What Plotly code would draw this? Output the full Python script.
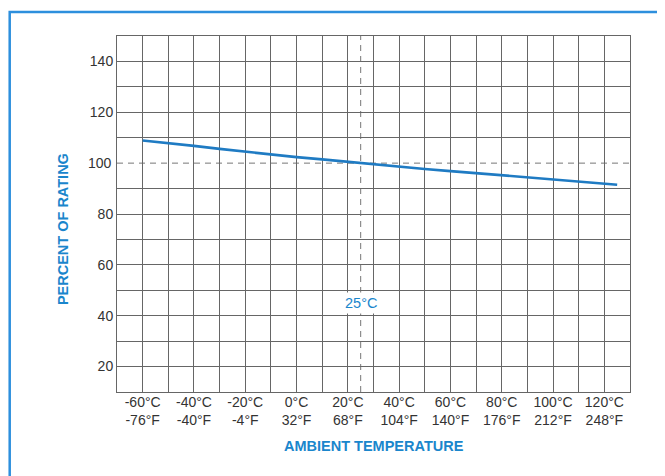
import plotly.graph_objects as go

# ---- data ----
temps_c = [-60, -50, -40, -30, -20, -10, 0, 10, 20, 25, 30, 40, 50, 60, 70, 80, 90, 100, 110, 120, 125]
percent = [108.9, 107.9, 106.8, 105.6, 104.5, 103.4, 102.4, 101.5, 100.5, 100.0, 99.5, 98.6, 97.7,
           96.9, 96.1, 95.3, 94.5, 93.6, 92.8, 92.0, 91.5]

tick_c = [-60, -40, -20, 0, 20, 40, 60, 80, 100, 120]
tick_f = [-76, -40, -4, 32, 68, 104, 140, 176, 212, 248]
y_ticks = [20, 40, 60, 80, 120, 140]
x_minor = [-50, -30, -10, 10, 30, 50, 70, 90, 110]
y_minor = [30, 50, 70, 90, 110, 130]
ref_temp = 25
ref_percent = 100
ref_label_y = 45

FONT = "Liberation Sans, Arial, sans-serif"
BLUE = "#1a86cc"
LINE_BLUE = "#1f7bc3"
GRID = "#666666"
TICK_COLOR = "#333333"
TICK_SIZE = 14

ticktext = [f"{c}°C<br>{f}°F" for c, f in zip(tick_c, tick_f)]

fig = go.Figure()
fig.add_trace(go.Scatter(x=temps_c, y=percent, mode="lines",
                         line=dict(color=LINE_BLUE, width=2.7), hoverinfo="skip",
                         showlegend=False))

# page body has an 8px margin, so the figure is made 8px smaller and shifted
fig.update_layout(
    width=657, height=468,
    margin=dict(l=109, r=35, t=28, b=84, autoexpand=False),
    paper_bgcolor="white", plot_bgcolor="white",
    font=dict(family=FONT, size=TICK_SIZE, color=TICK_COLOR),
    showlegend=False,
)

fig.update_xaxes(
    range=[-70, 130], tickmode="array", tickvals=tick_c, ticktext=ticktext,
    showgrid=True, gridcolor=GRID, gridwidth=1,
    minor=dict(tickmode="array", tickvals=x_minor, showgrid=True, gridcolor=GRID, gridwidth=1),
    showline=True, mirror=True, linecolor=GRID, linewidth=1,
    ticks="", zeroline=False, tickfont=dict(size=TICK_SIZE, color=TICK_COLOR),
    ticklabelstandoff=-3,
)
fig.update_yaxes(
    range=[10, 150], tickmode="array", tickvals=y_ticks,
    showgrid=True, gridcolor=GRID, gridwidth=1,
    minor=dict(tickmode="array", tickvals=y_minor, showgrid=True, gridcolor=GRID, gridwidth=1),
    showline=True, mirror=True, linecolor=GRID, linewidth=1,
    ticks="", zeroline=False, tickfont=dict(size=TICK_SIZE, color=TICK_COLOR),
)

# "100" label for the dashed reference gridline
fig.add_annotation(x=0, y=ref_percent, xref="paper", yref="y", text=str(ref_percent),
                   showarrow=False, xanchor="right", yanchor="middle", xshift=-3,
                   font=dict(family=FONT, size=TICK_SIZE, color=TICK_COLOR))

# dashed reference lines
fig.add_shape(type="line", xref="x domain", yref="y", x0=0, x1=1, y0=ref_percent, y1=ref_percent,
              line=dict(color="#777777", width=1, dash="6px,5px"), layer="below")
fig.add_shape(type="line", xref="x", yref="y domain", x0=ref_temp, x1=ref_temp, y0=0, y1=1,
              line=dict(color="#777777", width=1, dash="6px,5px"), layer="below")

fig.add_annotation(x=ref_temp, y=ref_label_y, xref="x", yref="y", text="25°C", showarrow=False,
                   font=dict(family=FONT, size=14.5, color=BLUE), bgcolor="white", borderpad=2)

# axis titles
fig.add_annotation(x=0.5, y=-0.152, xref="paper", yref="paper", text="<b>AMBIENT TEMPERATURE</b>",
                   showarrow=False, xanchor="center", yanchor="middle",
                   font=dict(family=FONT, size=14.5, color=BLUE))
fig.add_annotation(x=-0.105, y=0.458, xref="paper", yref="paper", text="<b>PERCENT OF RATING</b>",
                   showarrow=False, xanchor="center", yanchor="middle", textangle=-90,
                   font=dict(family=FONT, size=14.5, color=BLUE))

# outer blue frame
fig.add_shape(type="rect", xref="paper", yref="paper",
              x0=(9.7 - 117) / 513, x1=(690 - 117) / 513,
              y0=(392 - 500) / 356, y1=(392 - 12) / 356,
              line=dict(color="#2d8fdd", width=2.5), fillcolor="rgba(0,0,0,0)", layer="above")

fig.write_html("out.html")
